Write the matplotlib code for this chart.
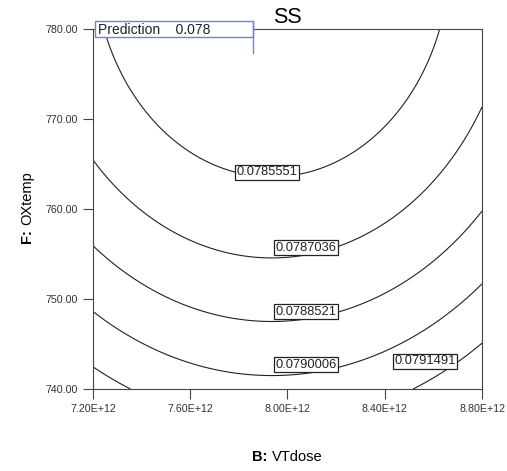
import numpy as np
import matplotlib
matplotlib.use('Agg')
from matplotlib import pyplot as plt
from matplotlib.patches import Rectangle
from matplotlib.transforms import ScaledTranslation

plt.rcParams['font.family'] = ['Liberation Sans', 'DejaVu Sans']

# Factor ranges (actual units)
vtdose_range = [7.2e12, 8.8e12]
oxtemp_range = [740.0, 780.0]

x_ticks = [7.2e12, 7.6e12, 8.0e12, 8.4e12, 8.8e12]
x_tick_labels = ['7.20E+12', '7.60E+12', '8.00E+12', '8.40E+12', '8.80E+12']
y_ticks = [740, 750, 760, 770, 780]
y_tick_labels = ['740.00', '750.00', '760.00', '770.00', '780.00']

# Quadratic model for SS in coded factors (A = VTdose, F = OXtemp)
coef_const = 0.0786098
coef_A = 3.31e-5
coef_F = -3.193e-4
coef_AA = 2.055e-4
coef_FF = 1.129e-4

contour_levels = [0.0785551, 0.0787036, 0.0788521, 0.0790006, 0.0791491]
label_spots = [(7.916e12, 764.1), (8.076e12, 755.7), (8.076e12, 748.6),
               (8.076e12, 742.7), (8.566e12, 743.1)]

# point flagged by the prediction box
pred_point = (7.86e12, 777.3)


def coded(v, lo, hi):
    return (v - (lo + hi) / 2) / ((hi - lo) / 2)


def ss_model(x, y):
    a = coded(x, *vtdose_range)
    f = coded(y, *oxtemp_range)
    return coef_const + coef_A * a + coef_F * f + coef_AA * a ** 2 + coef_FF * f ** 2


xs = np.linspace(vtdose_range[0], vtdose_range[1], 400)
ys = np.linspace(oxtemp_range[0], oxtemp_range[1], 400)
X, Y = np.meshgrid(xs, ys)
Z = ss_model(X, Y)

fig = plt.figure(figsize=(5.07, 4.71), dpi=100)
ax = fig.add_axes([93 / 507, 82 / 471, 389 / 507, 360 / 471])

cs = ax.contour(X, Y, Z, levels=contour_levels, colors='#222222', linewidths=0.8)
labels = ax.clabel(cs, fmt='%.7f', manual=label_spots, inline=False, fontsize=9.3)
# boxed labels sit just above the line, as in the original
for t, spot in zip(labels, label_spots):
    t.set_position(spot)
    t.set_rotation(0)
    t.set_color('#222222')
    t.set_bbox(dict(boxstyle='square,pad=0.12', facecolor='white', edgecolor='#222222', linewidth=0.9))
    t.set_zorder(4)

ax.set_xlim(vtdose_range)
ax.set_ylim(oxtemp_range)
ax.set_xticks(x_ticks)
ax.set_xticklabels(x_tick_labels)
ax.set_yticks(y_ticks)
ax.set_yticklabels(y_tick_labels)
ax.tick_params(direction='out', length=7, width=0.8, labelsize=7.7, pad=4,
               color='#444444', labelcolor='#333333')
for sp in ax.spines.values():
    sp.set_linewidth(0.8)
    sp.set_color('#444444')

ax.set_title('SS', fontsize=15.5, pad=4)

# axis labels: bold factor letter + plain name
ax.set_xlabel('VTdose', fontsize=10.5)
ax.set_ylabel('OXtemp', fontsize=10.5)
ax.xaxis.set_label_coords(0.524, -0.17)
ax.yaxis.set_label_coords(-0.152, 0.53)
ax.annotate('B:', xy=(0, 0), xycoords=ax.xaxis.label, xytext=(-3, 0), textcoords='offset points',
            ha='right', va='bottom', fontsize=10.5, fontweight='bold')
ax.annotate('F:', xy=(0.5, 0), xycoords=ax.yaxis.label, xytext=(0, -3), textcoords='offset points',
            ha='center', va='top', rotation=90, fontsize=10.5, fontweight='bold')

# prediction flag (sizes in inches, anchored at the data point)
flag_trans = fig.dpi_scale_trans + ScaledTranslation(pred_point[0], pred_point[1], ax.transData)
flag_col = '#7b7be0'
ax.add_patch(Rectangle((-1.58, 0.16), 1.58, 0.16, transform=flag_trans, facecolor='white',
                       edgecolor=flag_col, linewidth=1.0, zorder=5, clip_on=False))
ax.plot([0, 0], [0, 0.32], transform=flag_trans, color=flag_col, linewidth=1.0,
        zorder=6, clip_on=False)
pred_val = ss_model(*pred_point)
ax.text(-1.55, 0.235, 'Prediction    %.3f' % pred_val, transform=flag_trans, fontsize=10,
        va='center', ha='left', color='#222222', zorder=7, clip_on=False)

fig.savefig('out.png', dpi=100)
